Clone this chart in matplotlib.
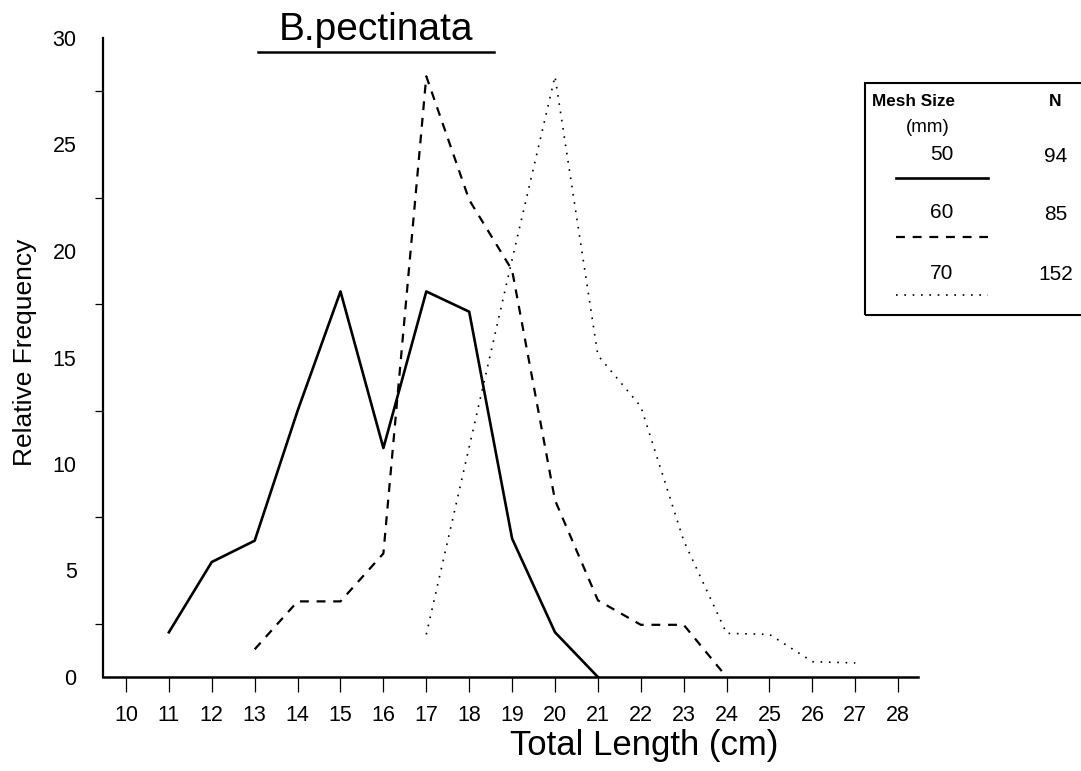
import matplotlib
matplotlib.use('Agg')
import matplotlib.pyplot as plt
from matplotlib.lines import Line2D
from matplotlib.patches import Rectangle

plt.rcParams['font.family'] = ['Liberation Sans', 'DejaVu Sans']

# total length (cm) and relative frequency for each mesh size
length_50 = [11, 12, 13, 14, 15, 16, 17, 18, 19, 20, 21]
freq_50 = [2.1, 5.4, 6.4, 12.5, 18.1, 10.75, 18.1, 17.15, 6.5, 2.1, 0.0]

length_60 = [13, 14, 15, 16, 17, 18, 19, 20, 21, 22, 23, 24]
freq_60 = [1.3, 3.55, 3.55, 5.8, 28.2, 22.4, 19.1, 8.3, 3.6, 2.45, 2.45, 0.0]

length_70 = [17, 18, 19, 20, 21, 22, 23, 24, 25, 26, 27]
freq_70 = [2.0, 10.8, 19.6, 28.2, 15.1, 12.7, 6.4, 2.05, 2.0, 0.72, 0.66]

mesh_sizes = ["50", "60", "70"]
mesh_n = ["94", "85", "152"]
x_ticks = list(range(10, 29))
y_ticks = [0, 5, 10, 15, 20, 25, 30]
y_minor = [2.5, 7.5, 12.5, 17.5, 22.5, 27.5]

W, H = 1081, 771
fig = plt.figure(figsize=(W / 100, H / 100), dpi=100)
ax = fig.add_axes([103 / W, (H - 677) / H, 814.5 / W, 639 / H])

solid = dict(lw=1.9, ls='-')
dashed = dict(lw=1.6, ls=(0, (4, 3.5)))
dotted = dict(lw=1.2, ls=(0, (1, 4)))

ax.plot(length_50, freq_50, color='black', **solid)
ax.plot(length_60, freq_60, color='black', **dashed)
ax.plot(length_70, freq_70, color='black', **dotted)

ax.set_xlim(9.464, 28.45)
ax.set_ylim(0, 30)
ax.spines['top'].set_visible(False)
ax.spines['right'].set_visible(False)
ax.spines['left'].set_linewidth(1.6)
ax.spines['bottom'].set_linewidth(1.8)

ax.set_xticks(x_ticks)
ax.set_xticklabels([str(v) for v in x_ticks])
ax.tick_params(axis='x', direction='out', length=11, width=0.9, pad=9,
               labelsize=15.5)
ax.set_yticks(y_ticks)
ax.set_yticklabels([str(v) for v in y_ticks])
ax.set_yticks(y_minor, minor=True)
ax.tick_params(axis='y', which='major', length=0, pad=19, labelsize=15.5)
ax.tick_params(axis='y', which='minor', direction='out', length=6, width=0.9)

ax.set_xlabel("Total Length (cm)", fontsize=25, va='center')
ax.xaxis.set_label_coords((644 - 103) / 814.5, (677 - 745) / 639)
ax.set_ylabel("Relative Frequency", fontsize=19, va='center')
ax.yaxis.set_label_coords((25 - 103) / 814.5, (677 - 352) / 639)


def fx(px):
    return px / W


def fy(py):
    return 1 - py / H


# title with underline
fig.text(fx(376), fy(30), "B.pectinata", fontsize=28, ha='center', va='center')
fig.add_artist(Line2D([fx(258), fx(494)], [fy(52), fy(52)], color='black', lw=1.8))

# legend box
fig.add_artist(Rectangle((fx(865), fy(315)), fx(300), (315 - 83) / H,
                         fill=False, edgecolor='black', lw=1.5))
fig.text(fx(914), fy(102), "Mesh Size", fontsize=12.3, fontweight='bold',
         ha='center', va='center')
fig.text(fx(1055), fy(102), "N", fontsize=12.5, fontweight='bold',
         ha='center', va='center')
fig.text(fx(928), fy(128), "(mm)", fontsize=13.5, ha='center', va='center')

label_y = [155, 213, 273]
line_y = [178, 237, 295]
for size, n, st, ty, ly in zip(mesh_sizes, mesh_n, [solid, dashed, dotted],
                               label_y, line_y):
    fig.text(fx(942), fy(ty), size, fontsize=15, ha='center', va='center')
    fig.text(fx(1056), fy(ty + 1), n, fontsize=15, ha='center', va='center')
    fig.add_artist(Line2D([fx(896), fx(988)], [fy(ly), fy(ly)], color='black', **st))

fig.savefig("out.png", dpi=100)
